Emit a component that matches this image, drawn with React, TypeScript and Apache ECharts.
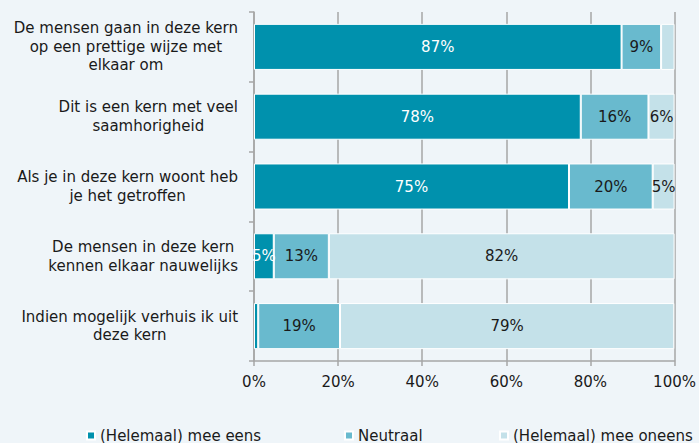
import React, { useEffect, useRef } from "react";
import * as echarts from "echarts";

const categories = [
  "De mensen gaan in deze kern\nop een prettige wijze met\nelkaar om",
  "Dit is een kern met veel\nsaamhorigheid",
  "Als je in deze kern woont heb\nje het getroffen",
  "De mensen in deze kern\nkennen elkaar nauwelijks",
  "Indien mogelijk verhuis ik uit\ndeze kern",
];
const seriesNames = ["(Helemaal) mee eens", "Neutraal", "(Helemaal) mee oneens"];
const eens = [87.4, 77.7, 74.9, 4.7, 1.0];
const neutraal = [9.4, 16.1, 19.9, 13.1, 19.45];
const oneens = [3.2, 6.2, 5.2, 82.2, 79.49];
const xTicks = [0, 20, 40, 60, 80, 100];

const colors = ["#0091AD", "#69BACE", "#C4E1E9"];
const labelColors = ["#ffffff", "#1a1a1a", "#1a1a1a"];
const legendLefts = [86, 344, 499];
const FONT = "DejaVu Sans, Verdana, sans-serif";

export default function App() {
  const ref = useRef<HTMLDivElement>(null);
  useEffect(() => {
    if (!ref.current) return;
    const chart = echarts.init(ref.current, null, { renderer: "svg" });
    const data = [eens, neutraal, oneens];
    chart.setOption({
      animation: false,
      backgroundColor: "#EFF5F9",
      textStyle: { fontFamily: FONT },
      grid: { left: 254, right: 23, top: 12, bottom: 82 },
      legend: seriesNames.map((n, i) => ({
        top: 423,
        left: legendLefts[i],
        itemWidth: 8,
        itemHeight: 8,
        icon: "rect",
        padding: [5, 0, 5, 0],
        textStyle: { fontSize: 15, color: "#1a1a1a", fontFamily: FONT },
        data: [n],
      })),
      xAxis: {
        type: "value",
        min: xTicks[0],
        max: xTicks[xTicks.length - 1],
        interval: 20,
        axisLine: { show: true, lineStyle: { color: "#A6A6A6", width: 1.5 } },
        axisTick: { show: true, length: 5, lineStyle: { color: "#A6A6A6", width: 1.5 } },
        splitLine: { show: true, lineStyle: { color: "#A6A6A6", width: 1.5 } },
        axisLabel: {
          formatter: "{value}%",
          fontSize: 15,
          color: "#1a1a1a",
          margin: 13,
          fontFamily: FONT,
        },
      },
      yAxis: {
        type: "category",
        inverse: true,
        data: categories,
        axisLine: { show: true, lineStyle: { color: "#A6A6A6", width: 1.5 } },
        axisTick: { show: true, length: 5, lineStyle: { color: "#A6A6A6", width: 1.5 } },
        axisLabel: {
          align: "right",
          margin: 16,
          color: "#1a1a1a",
          formatter: (v: string) =>
            v
              .split("\n")
              .map((l) => `{c|${l}}`)
              .join("\n"),
          rich: {
            c: { align: "center", fontSize: 15, lineHeight: 18.5, color: "#1a1a1a", fontFamily: FONT },
          },
        },
      },
      series: data.map((d, i) => ({
        name: seriesNames[i],
        type: "bar",
        stack: "total",
        barCategoryGap: "34%",
        data: d,
        itemStyle: { color: colors[i], borderColor: "#ffffff", borderWidth: 1 },
        label: {
          show: true,
          position: "inside",
          color: labelColors[i],
          fontSize: 15,
          fontFamily: FONT,
          formatter: (p: any) => (p.value < 4 ? "" : Math.round(p.value) + "%"),
        },
      })),
    });
    return () => chart.dispose();
  }, []);
  return <div ref={ref} style={{ width: 699, height: 443, position: "absolute", left: 0, top: 0 }} />;
}
